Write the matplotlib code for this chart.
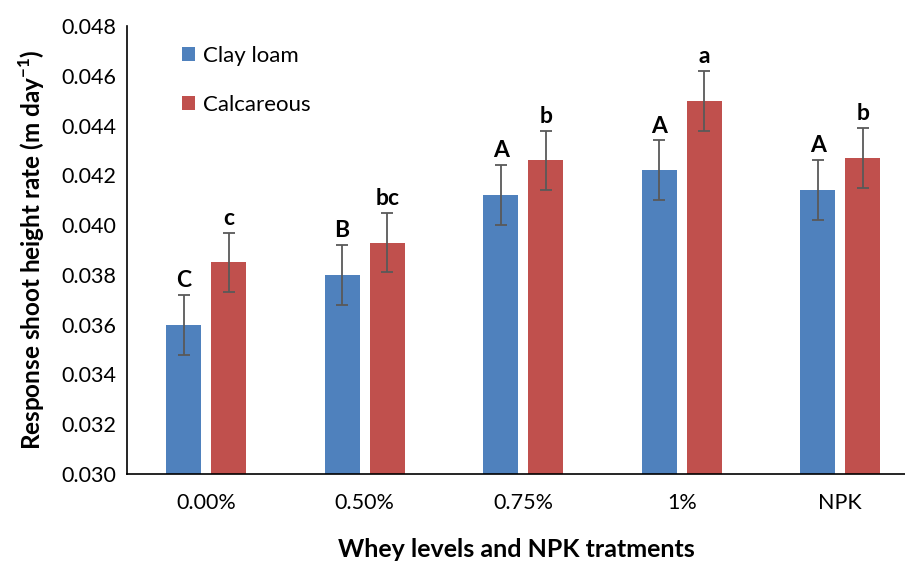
import matplotlib
matplotlib.use('Agg')
import matplotlib.pyplot as plt
import numpy as np

# data
categories = ['0.00%', '0.50%', '0.75%', '1%', 'NPK']
clay_loam = [0.0360, 0.0380, 0.0412, 0.0422, 0.0414]
calcareous = [0.0385, 0.0393, 0.0426, 0.0450, 0.0427]
clay_err = [0.0012, 0.0012, 0.0012, 0.0012, 0.0012]
calc_err = [0.0012, 0.0012, 0.0012, 0.0012, 0.0012]
clay_letters = ['C', 'B', 'A', 'A', 'A']
calc_letters = ['c', 'bc', 'b', 'a', 'b']

plt.rcParams['font.family'] = ['Lato', 'DejaVu Sans']
plt.rcParams['mathtext.fontset'] = 'custom'
plt.rcParams['mathtext.rm'] = 'Lato'
plt.rcParams['mathtext.bf'] = 'Lato:bold'

fig = plt.figure(figsize=(9.05, 5.65), dpi=100)
ax = fig.add_axes([127 / 905, 91 / 565, 778 / 905, 448 / 565])

x = np.arange(len(categories))
width = 0.22
offset = 0.143
err_style = dict(ecolor='#595959', elinewidth=1.3, capsize=4, capthick=1.3)

ax.bar(x - offset, clay_loam, width, color='#4F81BD', label='Clay loam',
       yerr=clay_err, error_kw=err_style)
ax.bar(x + offset, calcareous, width, color='#C0504D', label='Calcareous',
       yerr=calc_err, error_kw=err_style)

# significance letters above the error bars
for i in range(len(categories)):
    ax.text(x[i] - offset, clay_loam[i] + clay_err[i] + 0.00016, clay_letters[i],
            ha='center', va='bottom', fontsize=16.5, fontweight='bold')
    ax.text(x[i] + offset, calcareous[i] + calc_err[i] + 0.00016, calc_letters[i],
            ha='center', va='bottom', fontsize=16.5, fontweight='bold')

ax.set_ylim(0.030, 0.048)
ax.set_yticks(np.arange(0.030, 0.0481, 0.002))
ax.set_yticklabels(['%.3f' % v for v in np.arange(0.030, 0.0481, 0.002)])
ax.set_xlim(-0.5, -0.5 + 778 / 158.5)
ax.set_xticks(x)
ax.set_xticklabels(categories)
ax.tick_params(axis='both', length=0, labelsize=15.5)
ax.tick_params(axis='x', pad=14)
ax.tick_params(axis='y', pad=8)

for side in ['top', 'right']:
    ax.spines[side].set_visible(False)
for side in ['left', 'bottom']:
    ax.spines[side].set_linewidth(1.2)
    ax.spines[side].set_color('black')

ax.set_xlabel('Whey levels and NPK tratments', fontsize=18, fontweight='bold', labelpad=18)
ax.set_ylabel('Response shoot height rate (m day$^{\\mathbf{-1}}$)', fontsize=17.5,
              fontweight='bold', labelpad=10)

ax.legend(loc='upper left', bbox_to_anchor=(0.045, 1.0), frameon=False, fontsize=16,
          handlelength=0.6, handleheight=0.6, handletextpad=0.35, labelspacing=1.3)

fig.savefig('out.png', dpi=100)
